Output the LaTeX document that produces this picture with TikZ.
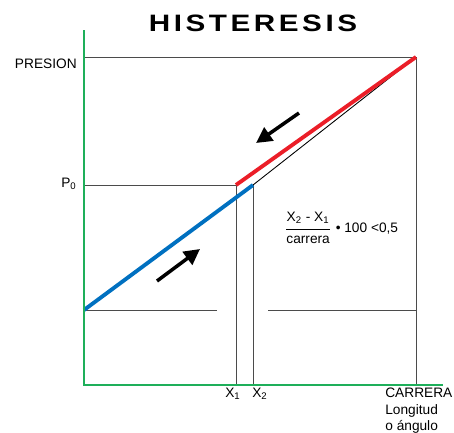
\documentclass[tikz,border=0pt]{standalone}
\usepackage{amsmath}
\usepackage{fontspec}
\setmainfont{Liberation Sans}
\usetikzlibrary{arrows.meta}

\definecolor{axisgreen}{RGB}{30,175,90}
\definecolor{loadblue}{RGB}{0,112,192}
\definecolor{unloadred}{RGB}{235,30,40}
\definecolor{guidegray}{RGB}{75,75,75}

\begin{document}
\begin{tikzpicture}[
    x=0.02cm, y=-0.02cm,
    axis/.style={draw=axisgreen,line width=1.1pt},
    guide/.style={draw=guidegray,line width=0.5pt},
    loadline/.style={draw=loadblue,line width=2.2pt},
    unloadline/.style={draw=unloadred,line width=2.2pt},
    sense/.style={-{Triangle[length=9pt,width=9pt]},line width=2pt},
    lbl/.style={font=\fontsize{7.8}{9.4}\selectfont,inner sep=0pt}
]
\useasboundingbox (0,0) rectangle (454,433);
% reference points of the curve
\coordinate (O) at (84,385);
\coordinate (ytop) at (84,30);
\coordinate (xend) at (443,385);
\coordinate (pmax) at (84,57);
\coordinate (top) at (416,57);
\coordinate (topfoot) at (416,385);
\coordinate (p0) at (84,185);
\coordinate (x1top) at (236,185);
\coordinate (x2top) at (253,185);
\coordinate (x1foot) at (236,385);
\coordinate (x2foot) at (253,385);
\coordinate (start) at (84,310);
\coordinate (gapl) at (217,310);
\coordinate (gapr) at (268,310);
\coordinate (startr) at (416,310);
\coordinate (upA) at (157,281);
\coordinate (upB) at (200,249);
\coordinate (dnA) at (299,113);
\coordinate (dnB) at (256,143);
% guide lines
\draw[guide] (pmax) -- (top) -- (topfoot);
\draw[guide] (p0) -- (x1top) -- (x1foot);
\draw[guide] (x2top) -- (x2foot);
\draw[guide] (start) -- (gapl);
\draw[guide] (gapr) -- (startr);
\draw[guide,draw=black] (x2top) -- (top);
% loading and unloading
\draw[loadline] (start) -- (x2top);
\draw[unloadline] (x1top) -- (top);
\draw[sense] (upA) -- (upB);
\draw[sense] (dnA) -- (dnB);
% axes
\draw[axis] (ytop) -- (O) -- (xend);
% labels
\node[font=\fontsize{13.5}{16}\bfseries\selectfont] (titulo) at (253,23)
    {\scalebox{1.25}[1]{\addfontfeatures{LetterSpace=12}HISTERESIS}};
\node[lbl,anchor=east] (presion) at (77,64) {PRESION};
\node[lbl,anchor=east] (pzero) at (77,184) {P\textsubscript{0}};
\node[lbl,anchor=north] (xone) at (233,388) {X\textsubscript{1}};
\node[lbl,anchor=north] (xtwo) at (260,388) {X\textsubscript{2}};
\node[lbl,anchor=north west,align=left] (carrera) at (385,388)
    {CARRERA\\Longitud\\o ángulo};
\node[lbl,anchor=west] (formula) at (284,228)
    {$\genfrac{}{}{0.9pt}{0}{\mbox{X\textsubscript{2} - X\textsubscript{1}}}{\mbox{carrera}}$ \textbullet\ 100 <0,5};
\end{tikzpicture}
\end{document}
